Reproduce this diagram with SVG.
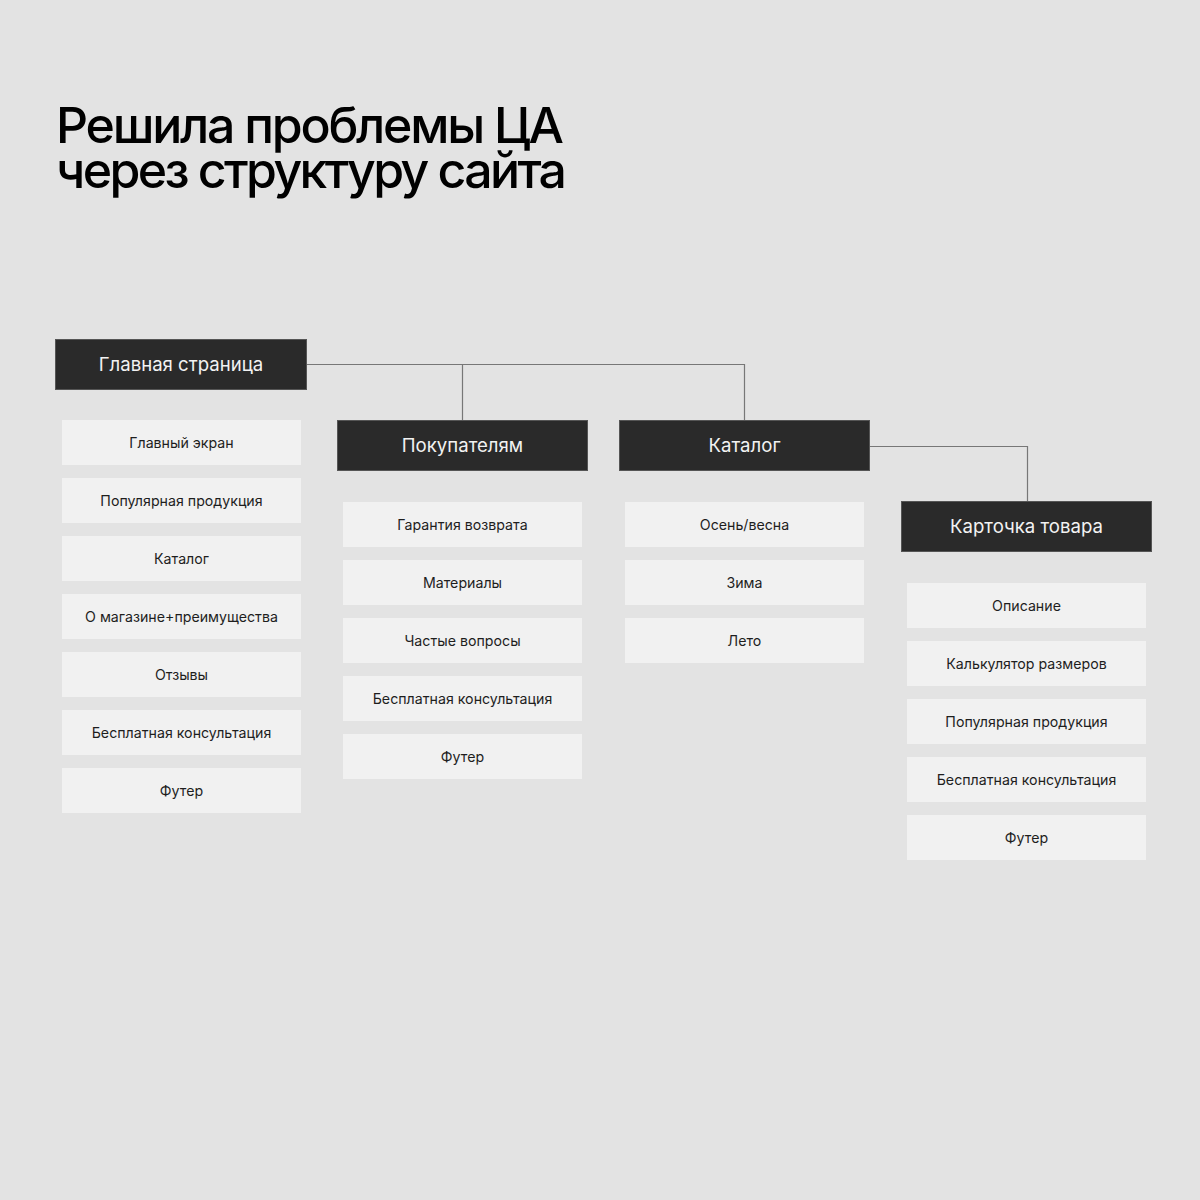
<svg xmlns="http://www.w3.org/2000/svg" width="1200" height="1200" viewBox="0 0 1200 1200">
<style>
.t{font-family:Inter,"Noto Sans","Liberation Sans",sans-serif;fill:#000;font-size:50px;font-weight:500;letter-spacing:-1px}
.d rect{fill:#2a2a2a;stroke:#555;stroke-width:1}
.d text{font-family:Inter,"Noto Sans","Liberation Sans",sans-serif;fill:#f2f2f2;font-size:18.6px;text-anchor:middle}
.l rect{fill:#f1f1f1}
.l text{font-family:Inter,"Noto Sans","Liberation Sans",sans-serif;fill:#1e1e1e;font-size:14.2px;text-anchor:middle}
.c{fill:none;stroke:#777;stroke-width:1.2}
</style>
<rect width="1200" height="1200" fill="#e3e3e3"/>
<text class="t" x="56" y="143" textLength="507" lengthAdjust="spacing">Решила проблемы ЦА</text>
<text class="t" x="56" y="188" textLength="510" lengthAdjust="spacing">через структуру сайта</text>
<g id="connectors">
<path class="c" d="M307 364.5H744.5V420M462.5 364.5V420"/>
<path class="c" d="M870 446.5H1027.5V501"/>
</g>
<g id="main" class="d"><rect x="55.5" y="339.5" width="251" height="50"/><text x="181" y="371">Главная страница</text></g>
<g id="buyers" class="d"><rect x="337.5" y="420.5" width="250" height="50"/><text x="462.5" y="452">Покупателям</text></g>
<g id="catalog" class="d"><rect x="619.5" y="420.5" width="250" height="50"/><text x="744.5" y="452">Каталог</text></g>
<g id="card" class="d"><rect x="901.5" y="501.5" width="250" height="50"/><text x="1026.5" y="533">Карточка товара</text></g>
<g id="m1" class="l"><rect x="62" y="420" width="239" height="45"/><text x="181.5" y="448">Главный экран</text></g>
<g id="m2" class="l"><rect x="62" y="478" width="239" height="45"/><text x="181.5" y="506">Популярная продукция</text></g>
<g id="m3" class="l"><rect x="62" y="536" width="239" height="45"/><text x="181.5" y="564">Каталог</text></g>
<g id="m4" class="l"><rect x="62" y="594" width="239" height="45"/><text x="181.5" y="622">О магазине+преимущества</text></g>
<g id="m5" class="l"><rect x="62" y="652" width="239" height="45"/><text x="181.5" y="680">Отзывы</text></g>
<g id="m6" class="l"><rect x="62" y="710" width="239" height="45"/><text x="181.5" y="738">Бесплатная консультация</text></g>
<g id="m7" class="l"><rect x="62" y="768" width="239" height="45"/><text x="181.5" y="796">Футер</text></g>
<g id="b1" class="l"><rect x="343" y="502" width="239" height="45"/><text x="462.5" y="530">Гарантия возврата</text></g>
<g id="b2" class="l"><rect x="343" y="560" width="239" height="45"/><text x="462.5" y="588">Материалы</text></g>
<g id="b3" class="l"><rect x="343" y="618" width="239" height="45"/><text x="462.5" y="646">Частые вопросы</text></g>
<g id="b4" class="l"><rect x="343" y="676" width="239" height="45"/><text x="462.5" y="704">Бесплатная консультация</text></g>
<g id="b5" class="l"><rect x="343" y="734" width="239" height="45"/><text x="462.5" y="762">Футер</text></g>
<g id="c1" class="l"><rect x="625" y="502" width="239" height="45"/><text x="744.5" y="530">Осень/весна</text></g>
<g id="c2" class="l"><rect x="625" y="560" width="239" height="45"/><text x="744.5" y="588">Зима</text></g>
<g id="c3" class="l"><rect x="625" y="618" width="239" height="45"/><text x="744.5" y="646">Лето</text></g>
<g id="p1" class="l"><rect x="907" y="583" width="239" height="45"/><text x="1026.5" y="611">Описание</text></g>
<g id="p2" class="l"><rect x="907" y="641" width="239" height="45"/><text x="1026.5" y="669">Калькулятор размеров</text></g>
<g id="p3" class="l"><rect x="907" y="699" width="239" height="45"/><text x="1026.5" y="727">Популярная продукция</text></g>
<g id="p4" class="l"><rect x="907" y="757" width="239" height="45"/><text x="1026.5" y="785">Бесплатная консультация</text></g>
<g id="p5" class="l"><rect x="907" y="815" width="239" height="45"/><text x="1026.5" y="843">Футер</text></g>
</svg>
